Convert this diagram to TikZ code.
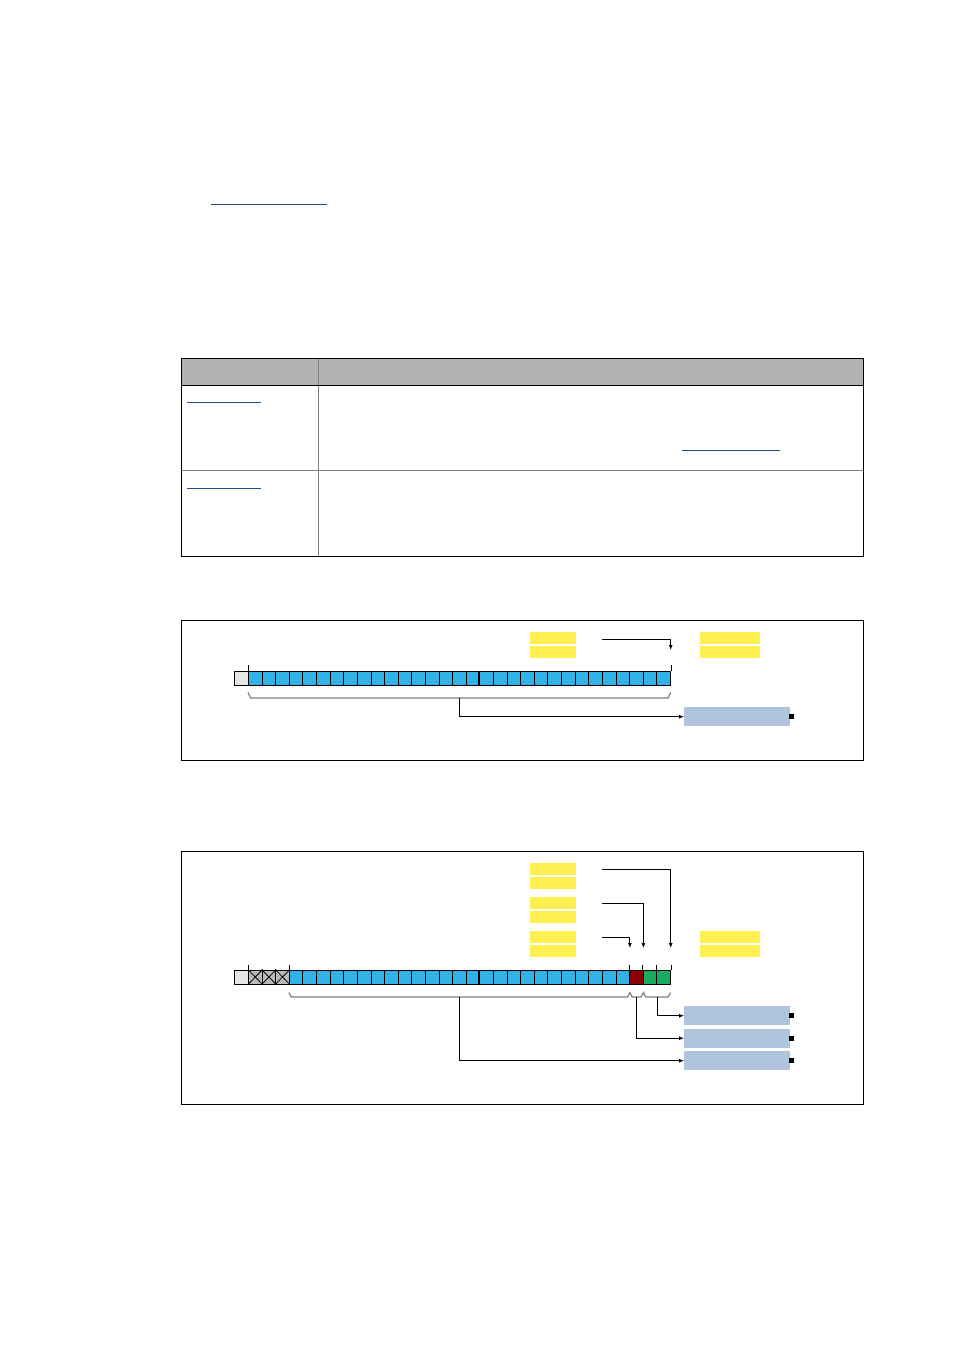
\documentclass[tikz,border=0pt]{standalone}
\usetikzlibrary{arrows.meta}
\definecolor{cblue}{RGB}{49,178,230}
\definecolor{cyel}{RGB}{255,239,80}
\definecolor{csteel}{RGB}{176,196,222}
\definecolor{cred}{RGB}{139,0,0}
\definecolor{cgreen}{RGB}{27,170,96}
\definecolor{cltgray}{RGB}{230,230,230}
\definecolor{cxgray}{RGB}{185,185,185}
\definecolor{chead}{RGB}{179,179,179}
\definecolor{cline}{RGB}{128,128,128}
\definecolor{clink}{RGB}{31,78,140}
\tikzset{
  cellbox/.style={draw=black,line width=1pt,inner sep=0pt,minimum width=13.613pt,minimum height=14pt,anchor=north west},
  ybox/.style={fill=cyel,inner sep=0pt,anchor=north west},
  sbox/.style={fill=csteel,inner sep=0pt,minimum width=106pt,minimum height=19pt,anchor=north west},
  pin/.style={fill=black,inner sep=0pt,minimum size=5pt},
  conn/.style={draw=black,line width=0.9pt,-{Latex[length=5pt,width=4pt]}},
  brace/.style={draw=cline,line width=1.2pt},
  tick/.style={draw=black,line width=0.9pt},
  frame/.style={draw=black,line width=1pt},
  link/.style={draw=clink,line width=1.1pt},
}
\begin{document}
\begin{tikzpicture}[x=1pt,y=-1pt]
\useasboundingbox (0,0) rectangle (954,1350);
\fill[white] (0,0) rectangle (954,1350);

% top link underline
\draw[link] (211,204.5) -- (327,204.5);

% table
\fill[chead] (181,358) rectangle (863,385);
\draw[cline,line width=1pt] (318,358) -- (318,556);
\draw[cline,line width=1pt] (181,470.5) -- (863,470.5);
\draw[black,line width=1pt] (181,385) -- (863,385);
\draw[frame] (181,358) rectangle (863,556);
\draw[link] (187,402.5) -- (261,402.5);
\draw[link] (682,450.5) -- (780,450.5);
\draw[link] (187,488.5) -- (261,488.5);

% ===== diagram 1 =====
\draw[frame] (181,620) rectangle (863,760);
\node[ybox,minimum width=46pt,minimum height=12pt] (y1a) at (530,632) {};
\node[ybox,minimum width=46pt,minimum height=12pt] (y1b) at (530,646) {};
\node[ybox,minimum width=60pt,minimum height=12pt] (y1c) at (700,632) {};
\node[ybox,minimum width=60pt,minimum height=12pt] (y1d) at (700,646) {};
\node[cellbox,fill=cltgray,minimum width=14pt] (g0) at (234,671) {};
\foreach \i in {1,...,31}{
  \node[cellbox,fill=cblue] (a\i) at ({248+(\i-1)*13.613},671) {};
}
\draw[black,line width=2pt] (a18.north west) -- (a18.south west);
\draw[tick] (a1.north west) -- ++(0,-6);
\draw[tick] (a31.north east) -- ++(0,-6);
\coordinate (s1) at (602,639.3);
\coordinate (t1) at (670.7,650);
\draw[conn] (s1) -- (s1 -| t1) -- (t1);
\coordinate (br1) at (459,698);
\draw[brace] (248,692.5) -- (250.5,698) -- (668,698) -- (670.7,692.5);
\node[sbox] (b1) at (684,707) {};
\node[pin] (p1) at (791.5,716.5) {};
\draw[conn] (br1) -- (br1 |- b1.west) -- (b1.west);

% ===== diagram 2 =====
\draw[frame] (181,851) rectangle (863,1104);
\node[ybox,minimum width=46pt,minimum height=12pt] (y2a) at (530,863) {};
\node[ybox,minimum width=46pt,minimum height=12pt] (y2b) at (530,876.5) {};
\node[ybox,minimum width=46pt,minimum height=12pt] (y3a) at (530,897) {};
\node[ybox,minimum width=46pt,minimum height=12pt] (y3b) at (530,910.5) {};
\node[ybox,minimum width=46pt,minimum height=12pt] (y4a) at (530,931) {};
\node[ybox,minimum width=46pt,minimum height=12pt] (y4b) at (530,944.5) {};
\node[ybox,minimum width=60pt,minimum height=12pt] (y5a) at (700,931) {};
\node[ybox,minimum width=60pt,minimum height=12pt] (y5b) at (700,944.5) {};
\node[cellbox,fill=cltgray,minimum width=14pt] (h0) at (234,969.5) {};
\foreach \i in {1,...,31}{
  \ifnum\i<4
    \node[cellbox,fill=cxgray] (c\i) at ({248+(\i-1)*13.613},969.5) {};
    \draw[black,line width=0.8pt] (c\i.north west) -- (c\i.south east) (c\i.south west) -- (c\i.north east);
  \else\ifnum\i<29
    \node[cellbox,fill=cblue] (c\i) at ({248+(\i-1)*13.613},969.5) {};
  \else\ifnum\i=29
    \node[cellbox,fill=cred] (c\i) at ({248+(\i-1)*13.613},969.5) {};
  \else
    \node[cellbox,fill=cgreen] (c\i) at ({248+(\i-1)*13.613},969.5) {};
  \fi\fi\fi
}
\draw[black,line width=2pt] (c18.north west) -- (c18.south west);
\foreach \n in {c1.north west,c3.north east,c29.north west,c30.north west,c31.north west,c31.north east}{
  \draw[tick] (\n) -- ++(0,-5);
}
\coordinate (s2) at (602,869.3);
\coordinate (t2) at (670.7,948);
\coordinate (s3) at (602,903.3);
\coordinate (t3) at (643.4,948);
\coordinate (s4) at (602,937.3);
\coordinate (t4) at (629.9,948);
\draw[conn] (s2) -- (s2 -| t2) -- (t2);
\draw[conn] (s3) -- (s3 -| t3) -- (t3);
\draw[conn] (s4) -- (s4 -| t4) -- (t4);
\draw[brace] (288.8,992.5) -- (291.3,997) -- (627.5,997) -- (629.9,992.5) -- (632.3,997)
  -- (641.2,997) -- (643.4,992.5) -- (645.6,997) -- (668,997) -- (670.7,992.5);
\node[sbox] (d1) at (684,1006) {};
\node[sbox] (d2) at (684,1028.5) {};
\node[sbox] (d3) at (684,1051) {};
\node[pin] at (791.5,1015.5) {};
\node[pin] at (791.5,1038) {};
\node[pin] at (791.5,1060.5) {};
\coordinate (br2) at (459,997);
\coordinate (br3) at (636.7,997);
\coordinate (br4) at (657,997);
\draw[conn] (br4) -- (br4 |- d1.west) -- (d1.west);
\draw[conn] (br3) -- (br3 |- d2.west) -- (d2.west);
\draw[conn] (br2) -- (br2 |- d3.west) -- (d3.west);
\end{tikzpicture}
\end{document}
